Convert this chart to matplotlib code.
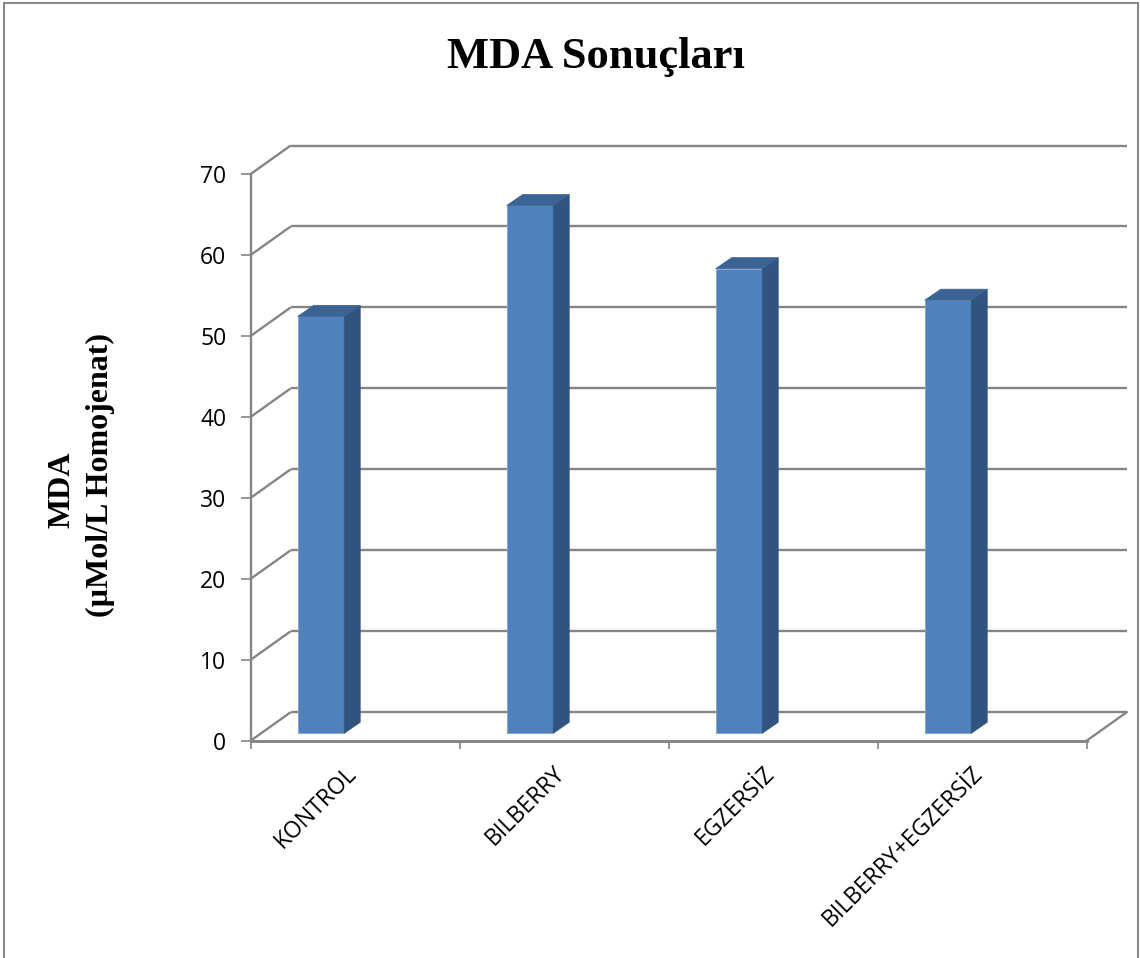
import matplotlib
matplotlib.use("Agg")
import matplotlib.pyplot as plt
from matplotlib.patches import Polygon, Rectangle

# ---- data ----
categories = ["KONTROL", "BILBERRY", "EGZERSİZ", "BILBERRY+EGZERSİZ"]
values = [51.5, 65.2, 57.4, 53.5]
yticks = [0, 10, 20, 30, 40, 50, 60, 70]
title = "MDA Sonuçları"
ylabel_1 = "MDA"
ylabel_2 = "(µMol/L Homojenat)"

W, H = 1140, 958
fig = plt.figure(figsize=(W / 100, H / 100), dpi=100)

# axes placed in pixel positions of front floor / left wall
x0, x1 = 250.7, 1086.7
y0, y70 = 740.7, 174.0
ax = fig.add_axes([x0 / W, (H - y0) / H, (x1 - x0) / W, (y0 - y70) / H])
ax.set_xlim(0, len(categories))
ax.set_ylim(0, 70)
ax.patch.set_alpha(0)
for s in ax.spines.values():
    s.set_visible(False)

px_per_cat = (x1 - x0) / len(categories)
px_per_val = (y0 - y70) / 70.0

# 3D depth (in data units)
D_dx = 40 / px_per_cat
D_dy = 28.5 / px_per_val
grid_c = "#858585"
lw = 1.7

# walls / gridlines
for v in yticks:
    ax.plot([0, D_dx], [v, v + D_dy], color=grid_c, lw=lw, clip_on=False, zorder=1,
            solid_capstyle="butt")
    ax.plot([D_dx, len(categories) + D_dx], [v + D_dy, v + D_dy], color=grid_c, lw=lw,
            clip_on=False, zorder=1, solid_capstyle="butt")
# vertical axis
ax.plot([0, 0], [0, 70], color=grid_c, lw=lw, clip_on=False, zorder=1)
# floor front and right edge
ax.plot([0, len(categories)], [0, 0], color=grid_c, lw=lw + 0.4, clip_on=False, zorder=1)
ax.plot([len(categories), len(categories) + D_dx], [0, D_dy], color=grid_c, lw=lw,
        clip_on=False, zorder=1)

# ticks
ax.set_yticks(yticks)
ax.set_yticklabels([str(t) for t in yticks], fontfamily="Open Sans", fontsize=16.5)
ax.tick_params(axis="y", length=7.5, width=1.2, color=grid_c, pad=10)
ax.set_xticks(range(len(categories) + 1))
ax.set_xticklabels([])
ax.tick_params(axis="x", length=6, width=1.2, color=grid_c)

# bars
front_off = -0.275
bar_w = 46.5 / px_per_cat
base = 7.4 / px_per_val
bdx = 16 / px_per_cat
bdy = 11 / px_per_val
front_c = "#4F81BD"
side_c = "#315380"
top_c = "#3B6393"
for i, v in enumerate(values):
    left = i + 0.5 + front_off
    top = base + v
    ax.bar(left, v, width=bar_w, bottom=base, align="edge", color=front_c,
           edgecolor="#7FA3D3", linewidth=0.6, zorder=3, clip_on=False)
    side = Polygon([[left + bar_w, base], [left + bar_w + bdx, base + bdy],
                    [left + bar_w + bdx, top + bdy], [left + bar_w, top]],
                   closed=True, facecolor=side_c, edgecolor=side_c, lw=0.5,
                   zorder=3, clip_on=False)
    ax.add_patch(side)
    topp = Polygon([[left, top], [left + bar_w, top], [left + bar_w + bdx, top + bdy],
                    [left + bdx, top + bdy]], closed=True, facecolor=top_c,
                   edgecolor=top_c, lw=0.5, zorder=3, clip_on=False)
    ax.add_patch(topp)

# category labels
for i, c in enumerate(categories):
    ax.text(i + 0.5 + 6 / px_per_cat, -21 / px_per_val, c, rotation=45, ha="right",
            va="top", fontfamily="Open Sans", fontsize=16.5, clip_on=False)

# title and y label
fig.text(596 / W, 1 - 37 / H, title, ha="center", va="top",
         fontfamily="Liberation Serif", fontweight="bold", fontsize=32)
fig.text(62 / W, 1 - 490 / H, ylabel_1, rotation=90, ha="center", va="center",
         fontfamily="Liberation Serif", fontweight="bold", fontsize=23)
fig.text(100 / W, 1 - 475 / H, ylabel_2, rotation=90, ha="center", va="center",
         fontfamily="Liberation Serif", fontweight="bold", fontsize=23)

# chart border
fig.patches.append(Rectangle((4 / W, -0.05), (1138 - 4) / W, 1.05 - 3 / H,
                             transform=fig.transFigure, fill=False,
                             edgecolor="#8A8A8A", lw=1.5))

fig.savefig("out.png", dpi=100)
